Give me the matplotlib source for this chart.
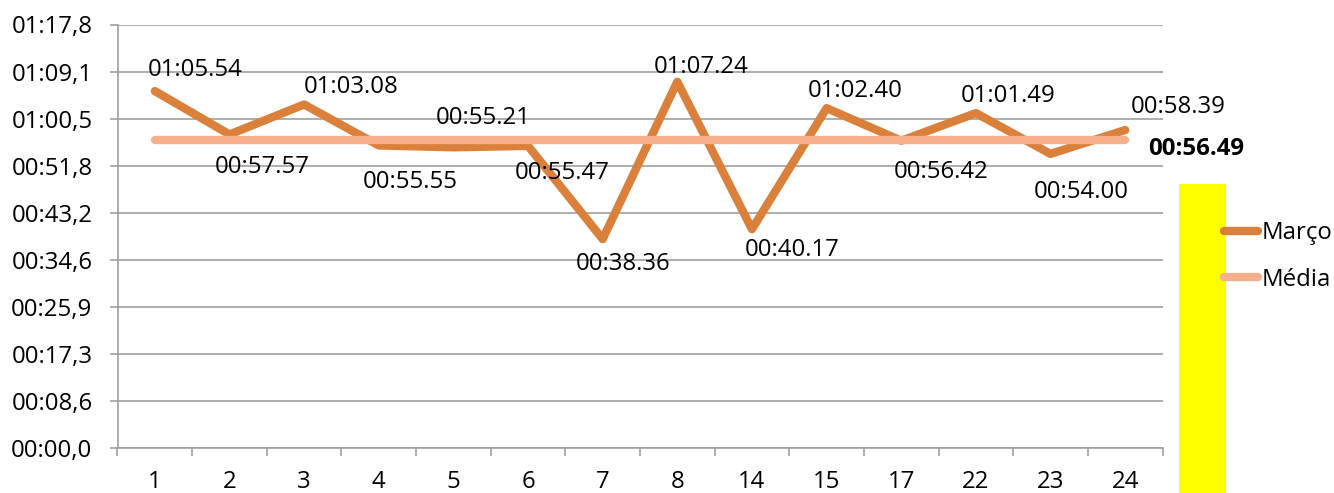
import matplotlib
matplotlib.use("Agg")
import matplotlib.pyplot as plt
from matplotlib.patches import Rectangle
from matplotlib.ticker import FuncFormatter, MultipleLocator

plt.rcParams["font.family"] = ["Open Sans", "DejaVu Sans"]

# dias de março e tempos (segundos)
dias = ["1", "2", "3", "4", "5", "6", "7", "8", "14", "15", "17", "22", "23", "24"]
tempos = [65.54, 57.57, 63.08, 55.55, 55.21, 55.47, 38.36, 67.24,
          40.17, 62.40, 56.42, 61.49, 54.00, 58.39]
media = 56.49

# deslocamento dos rótulos (pixels, centro do texto em relação ao ponto)
desloc = [(40, 21), (33, -33), (47, 17), (31, -37), (30, 29), (34, -27),
          (20, -25), (24, 15), (40, -21), (29, 17), (40, -31), (32, 17),
          (31, -38), (53, 23)]

W, H = 1334, 493
fig = plt.figure(figsize=(W / 100, H / 100), dpi=100)
ax = fig.add_axes([117.5 / W, (H - 448) / H, 1045 / W, 423.5 / H])

laranja = "#DA803A"
salmao = "#F5B08B"
cinza = "#A0A0A0"
fs = 17.3

x = list(range(len(dias)))
ax.plot(x, tempos, color=laranja, lw=6, solid_capstyle="round",
        solid_joinstyle="round", label="Março", zorder=3)
ax.plot(x, [media] * len(x), color=salmao, lw=6, solid_capstyle="round",
        label="Média", zorder=3)


def mmss(v):
    m = int(v // 60)
    return "%02d:%05.2f" % (m, v - 60 * m)


for xi, v, (dx, dy) in zip(x, tempos, desloc):
    ax.annotate(mmss(v), (xi, v), xytext=(dx, dy), textcoords="offset pixels",
                ha="center", va="center", fontsize=fs, zorder=4)
ax.annotate(mmss(media), (x[-1], media), xytext=(71, -9),
            textcoords="offset pixels", ha="center", va="center",
            fontsize=fs, fontweight="bold", annotation_clip=False)

passo = 8.64


def eixo_y(v, pos):
    m = int(round(v, 3) // 60)
    s = v - 60 * m
    return ("%02d:%04.1f" % (m, s)).replace(".", ",")


ax.set_ylim(0, 9 * passo)
ax.yaxis.set_major_locator(MultipleLocator(passo))
ax.yaxis.set_major_formatter(FuncFormatter(eixo_y))
ax.set_xlim(-0.5, len(dias) - 0.5)
ax.set_xticks(x)
ax.set_xticklabels(dias)
ax.set_xticks([i - 0.5 for i in range(len(dias) + 1)], minor=True)
ax.tick_params(axis="x", which="major", length=0, pad=16, labelsize=fs)
ax.tick_params(axis="x", which="minor", length=6, width=1.2, color=cinza)
ax.tick_params(axis="y", length=6, width=1.2, color=cinza, pad=12, labelsize=fs)

ax.grid(axis="y", color=cinza, lw=1.2)
ax.set_axisbelow(True)
for lado in ["top", "right"]:
    ax.spines[lado].set_visible(False)
for lado in ["left", "bottom"]:
    ax.spines[lado].set_color(cinza)
    ax.spines[lado].set_linewidth(1.2)

fig.add_artist(Rectangle((1179 / W, 0), 47 / W, (H - 184) / H,
                         transform=fig.transFigure, color="#FFFF00", lw=0))

fig.legend(loc="upper left", bbox_to_anchor=(1224 / W, (H - 221) / H),
           frameon=False, fontsize=fs, handlelength=1.4, handletextpad=0.15,
           labelspacing=0.95, borderaxespad=0, borderpad=0)

fig.savefig("out.png", dpi=100)
